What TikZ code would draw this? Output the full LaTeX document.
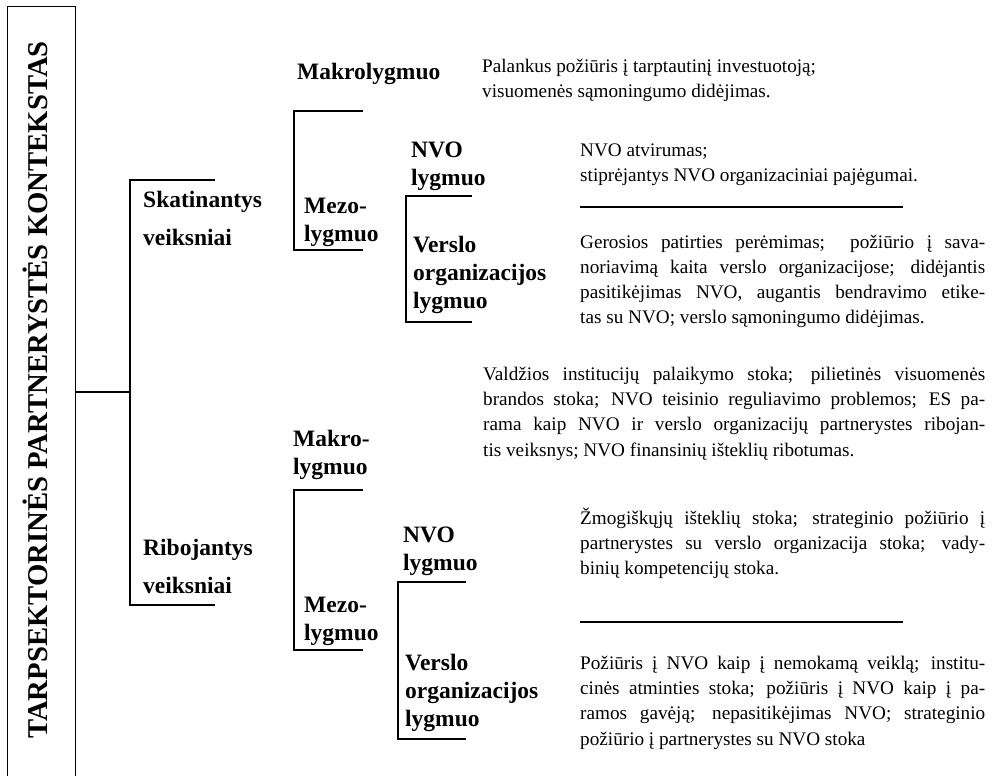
\documentclass[tikz,border=0pt]{standalone}
\usepackage{fontspec}
\setmainfont{Liberation Serif}
% a justified line of fixed width
\newcommand\fillline[2]{\makebox[#1][s]{#2}}
\begin{document}
\begin{tikzpicture}[x=1pt,y=-1pt,
  frame/.style={line width=1pt},
  brk/.style={line width=2.2pt},
  stub/.style={line width=1.5pt},
  sep/.style={line width=2.5pt},
  title/.style={font=\fontsize{28.7}{30}\selectfont\bfseries, inner sep=0pt},
  % multi-line nodes are placed by the baseline of their last line
  lbl/.style={anchor=base west, inner sep=0pt, align=left,
    font=\fontsize{23.5}{28}\selectfont\bfseries},
  lblwide/.style={lbl, font=\fontsize{23.5}{38}\selectfont\bfseries},
  txt/.style={anchor=base west, inner sep=0pt, align=left,
    font=\fontsize{19.2}{25.3}\selectfont},
]
\useasboundingbox (0,0) rectangle (994,776);

% title frame, open at the bottom
\coordinate (fbl) at (7,777);
\coordinate (ftl) at (7,7);
\coordinate (ftr) at (75,7);
\coordinate (fbr) at (75,777);
\draw[frame] (fbl) -- (ftl) -- (ftr) -- (fbr);
\node[title, rotate=90, anchor=base] (ttl) at (47,390)
  {TARPSEKTORINĖS PARTNERYSTĖS KONTEKSTAS};

% main branch
\coordinate (stubL) at (75,392);
\coordinate (stubR) at (130,392);
\draw[stub] (stubL) -- (stubR);
\coordinate (mT1) at (215,180);
\coordinate (mT0) at (130,180);
\coordinate (mB0) at (130,605);
\coordinate (mB1) at (215,605);
\draw[brk] (mT1) -- (mT0) -- (mB0) -- (mB1);

% upper meso bracket
\coordinate (uzT1) at (363,111);
\coordinate (uzT0) at (294,111);
\coordinate (uzB0) at (294,250);
\coordinate (uzB1) at (363,250);
\draw[brk] (uzT1) -- (uzT0) -- (uzB0) -- (uzB1);

% upper NGO / business bracket
\coordinate (unT1) at (472,196);
\coordinate (unT0) at (406,196);
\coordinate (unB0) at (406,322);
\coordinate (unB1) at (472,322);
\draw[brk] (unT1) -- (unT0) -- (unB0) -- (unB1);

% lower meso bracket
\coordinate (lzT1) at (363,490);
\coordinate (lzT0) at (294,490);
\coordinate (lzB0) at (294,650);
\coordinate (lzB1) at (363,650);
\draw[brk] (lzT1) -- (lzT0) -- (lzB0) -- (lzB1);

% lower NGO / business bracket
\coordinate (lnT1) at (466,582);
\coordinate (lnT0) at (398,582);
\coordinate (lnB0) at (398,739);
\coordinate (lnB1) at (466,739);
\draw[brk] (lnT1) -- (lnT0) -- (lnB0) -- (lnB1);

% level labels
\node[lbl] (mak1) at (297,80) {Makrolygmuo};
\node[lblwide] (skat) at (143,245) {Skatinantys\\veiksniai};
\node[lbl] (mezo1) at (304,241) {Mezo-\\lygmuo};
\node[lbl] (nvo1) at (411,185) {NVO\\lygmuo};
\node[lbl] (ver1) at (413,308) {Verslo\\organizacijos\\lygmuo};
\node[lblwide] (rib) at (143,593) {Ribojantys\\veiksniai};
\node[lbl] (mak2) at (293,474) {Makro-\\lygmuo};
\node[lbl] (mezo2) at (304,640) {Mezo-\\lygmuo};
\node[lbl] (nvo2) at (403,570) {NVO\\lygmuo};
\node[lbl] (ver2) at (405,726) {Verslo\\organizacijos\\lygmuo};

% factor descriptions
\node[txt] (p1) at (482,97.3)
  {Palankus požiūris į tarptautinį investuotoją;\\visuomenės sąmoningumo didėjimas.};
\node[txt] (p2) at (580,181.3)
  {NVO atvirumas;\\stiprėjantys NVO organizaciniai pajėgumai.};
\coordinate (s1a) at (580,207);
\coordinate (s1b) at (903,207);
\draw[sep] (s1a) -- (s1b);
\node[txt] (p3) at (580,323.9)
  {\fillline{405pt}{Gerosios patirties perėmimas;\ \ požiūrio į sava-}\\
   \fillline{405pt}{noriavimą kaita verslo organizacijose; didėjantis}\\
   \fillline{405pt}{pasitikėjimas NVO, augantis bendravimo etike-}\\
   tas su NVO; verslo sąmoningumo didėjimas.};
\node[txt] (p4) at (483,456)
  {\fillline{502pt}{Valdžios institucijų palaikymo stoka; pilietinės visuomenės}\\
   \fillline{502pt}{brandos stoka; NVO teisinio reguliavimo problemos; ES pa-}\\
   \fillline{502pt}{rama kaip NVO ir verslo organizacijų partnerystes ribojan-}\\
   tis veiksnys; NVO finansinių išteklių ribotumas.};
\node[txt] (p5) at (580,574.6)
  {\fillline{405pt}{Žmogiškųjų išteklių stoka; strateginio požiūrio į}\\
   \fillline{405pt}{partnerystes su verslo organizacija stoka; vady-}\\
   binių kompetencijų stoka.};
\coordinate (s2a) at (580,622);
\coordinate (s2b) at (903,622);
\draw[sep] (s2a) -- (s2b);
\node[txt] (p6) at (580,745)
  {\fillline{405pt}{Požiūris į NVO kaip į nemokamą veiklą; institu-}\\
   \fillline{405pt}{cinės atminties stoka; požiūris į NVO kaip į pa-}\\
   \fillline{405pt}{ramos gavėją; nepasitikėjimas NVO; strateginio}\\
   požiūrio į partnerystes su NVO stoka};
\end{tikzpicture}
\end{document}
